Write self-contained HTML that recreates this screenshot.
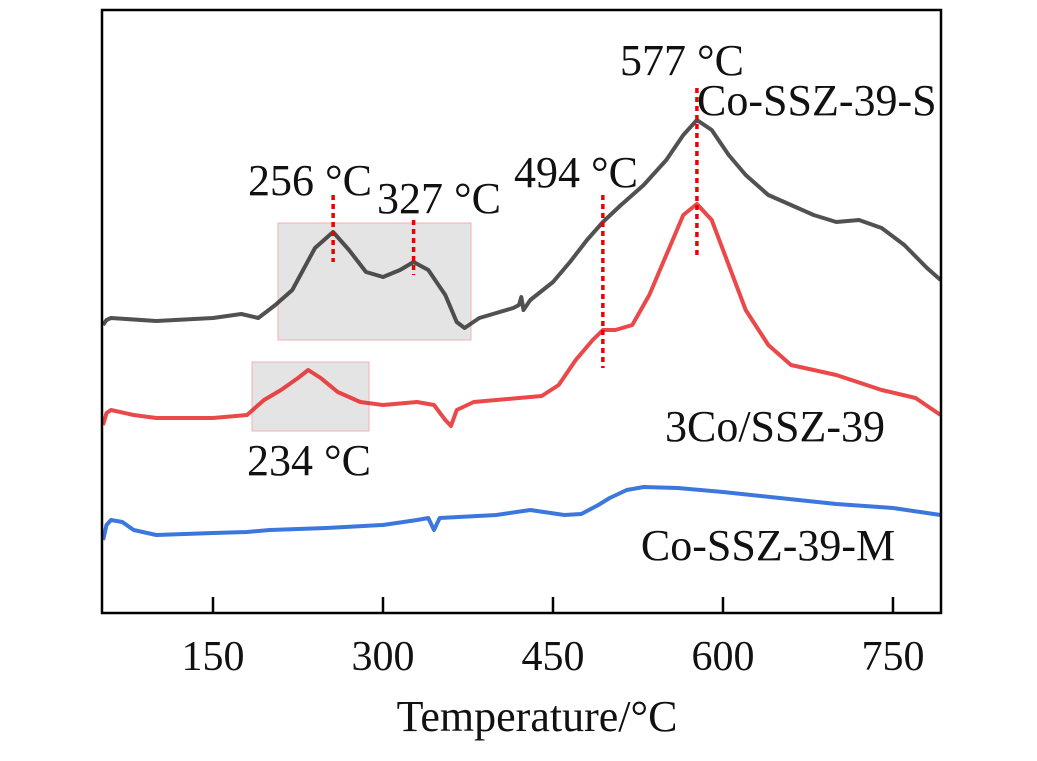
<!DOCTYPE html>
<html><head><meta charset="utf-8"><style>
body{margin:0;background:#fff}
svg text{font-family:"Liberation Serif",serif;fill:#111}
</style></head><body>
<svg id="chart" width="1037" height="756">
<rect x="0" y="0" width="1037" height="756" fill="#fff"/>
<g id="boxes"></g>
<g id="series"></g>
<g id="markers"></g>
<g id="axes"></g>
<g id="labels"></g>
</svg>
<script>
const ticks=[150,300,450,600,750];
const blackT=[53,56,60,100,150,175,190,205,220,240,256,270,285,300,315,327,340,355,365,372,385,400,415,420,422,424,430,450,465,480,494,510,530,550,565,577,590,605,620,640,660,680,700,720,740,760,780,792];
const blackV=[288,293,295,292,295,299,295,308,323,365,381,363,341,336,343,351,343,318,291,285,295,300,305,308,316,303,313,331,351,373,391,408,428,453,478,493,483,458,438,418,408,398,391,393,385,368,345,333];
const redT=[53,56,60,80,100,150,180,195,210,225,234,245,260,280,300,330,345,355,360,365,380,400,420,440,455,470,485,494,505,520,535,550,565,577,590,605,620,640,660,700,740,770,792];
const redV=[188,200,203,198,195,195,198,213,223,235,243,235,221,211,208,211,208,193,187,203,211,213,215,217,228,253,273,283,283,288,318,358,398,409,393,348,303,268,248,238,223,215,198];
const blueT=[53,56,60,70,80,100,150,180,200,250,300,330,340,345,350,400,430,460,475,490,500,515,530,560,600,650,700,750,792];
const blueV=[73,88,93,91,83,78,80,81,83,85,88,93,95,83,95,98,103,98,99,108,115,123,126,125,121,115,109,105,98];
const peaks=[256,327,494,577];
const peakTop=[195,220,195,88], peakBot=[262,275,368,255];
const ns="http://www.w3.org/2000/svg";
const X=t=>213+(t-150)*1.1333;
const Y=v=>613-v;
function mk(tag,attrs,parent,text){const e=document.createElementNS(ns,tag);for(const k in attrs)e.setAttribute(k,attrs[k]);if(text!==undefined)e.textContent=text;document.getElementById(parent).appendChild(e);return e;}
let b=mk('rect',{x:278,y:223,width:193,height:117,fill:'#e4e4e4',stroke:'#f0b0b0','stroke-width':1},'boxes');


b=mk('rect',{x:252,y:362,width:117,height:69,fill:'#e4e4e4',stroke:'#f0b0b0','stroke-width':1},'boxes');


function line(T,V,color,name){const d=T.map((t,i)=>(i?'L':'M')+X(t).toFixed(1)+','+Y(V[i]).toFixed(1)).join('');const p=mk('path',{d:d,fill:'none',stroke:color,'stroke-width':4,'stroke-linejoin':'round','stroke-opacity':0.85},'series');

}
line(blackT,blackV,'#333','series-co-ssz-39-s');
line(redT,redV,'#e8282a','series-3co-ssz-39');
line(blueT,blueV,'#1a5fd8','series-co-ssz-39-m');
peaks.forEach((p,i)=>{const l=mk('line',{x1:X(p),x2:X(p),y1:peakTop[i],y2:peakBot[i],stroke:'#e00',"stroke-width":3.5,'stroke-dasharray':'5,4'},'markers');

});
let a=mk('rect',{x:102,y:10,width:839,height:603,fill:'none',stroke:'#000','stroke-width':2.5},'axes');


ticks.forEach(t=>{const l=mk('line',{x1:X(t),x2:X(t),y1:613,y2:597,stroke:'#000','stroke-width':2.5},'axes');


const tx=mk('text',{x:X(t),y:670,'font-size':42,'text-anchor':'middle'},'axes',String(t));

});
const labs=[['577 °C',682,75,'middle','label-577'],['Co-SSZ-39-S',697,115,'start','label-co-ssz-39-s'],['256 °C',310,195,'middle','label-256'],['327 °C',439,213,'middle','label-327'],['494 °C',576,187,'middle','label-494'],['234 °C',309,475,'middle','label-234'],['3Co/SSZ-39',775,441,'middle','label-3co-ssz-39'],['Co-SSZ-39-M',768,560,'middle','label-co-ssz-39-m'],['Temperature/°C',537,731,'middle','x-axis-title']];
labs.forEach(l=>{const t=mk('text',{x:l[1],y:l[2],'font-size':44,'text-anchor':l[3]},'labels',l[0]);

});
</script>
</body></html>
